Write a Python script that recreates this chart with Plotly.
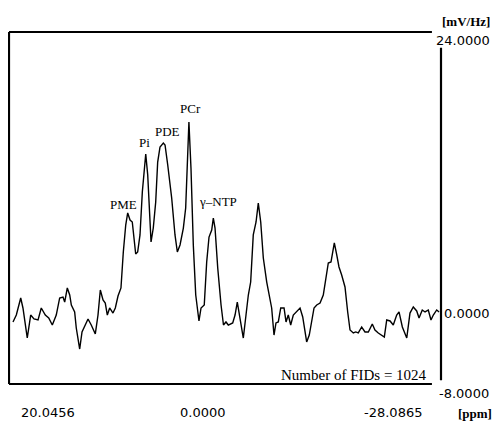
import plotly.graph_objects as go

# Chemical shift (ppm) and signal (mV/Hz)
ppm = [19.60, 19.23, 18.74, 18.49, 18.01, 17.63, 17.26, 16.81, 16.45, 16.00,
       15.62, 15.22, 14.78, 14.40, 14.03, 13.84, 13.55, 13.28, 13.10, 12.73,
       12.55, 12.17, 11.91, 11.54, 11.24, 10.88, 10.43, 10.13, 9.87, 9.57,
       9.32, 9.09, 8.83, 8.46, 8.20, 7.90, 7.57, 7.31, 7.04, 6.82,
       6.56, 6.31, 5.93, 5.71, 5.45, 5.19, 4.97, 4.81, 4.59, 4.22,
       3.97, 3.70, 3.48, 3.22, 2.85, 2.66, 2.36, 1.92, 1.55, 1.29,
       0.99, 0.62, 0.36, 0.13, 0.00, -0.23, -0.49, -0.76, -1.12, -1.35,
       -1.71, -1.98, -2.24, -2.54, -2.72, -2.91, -3.21, -3.58, -3.85, -4.13,
       -4.39, -4.88, -5.14, -5.39, -5.69, -6.06, -6.36, -6.62, -6.88, -7.17,
       -7.48, -7.73, -8.00, -8.29, -8.67, -8.96, -9.22, -9.48, -9.70, -9.96,
       -10.23, -10.60, -10.82, -11.07, -11.34, -11.63, -12.01, -12.38, -12.68, -13.12,
       -13.41, -13.68, -13.94, -14.24, -14.61, -14.97, -15.27, -15.53, -15.83, -16.20,
       -16.47, -16.72, -17.02, -17.39, -17.69, -17.95, -18.32, -18.58, -18.87, -19.25,
       -19.62, -19.99, -20.43, -20.73, -21.10, -21.48, -21.77, -22.04, -22.41, -22.77,
       -23.15, -23.41, -23.78, -24.27, -24.63, -25.00, -25.38, -25.64, -26.00, -26.31,
       -26.67, -26.97, -27.23, -27.61, -27.87]
signal = [-2.36, -1.73, -0.18, -1.09, -3.82, -1.73, -2.09, -2.18, -1.09, -1.73,
          -2.00, -2.64, -1.73, -0.18, -0.09, -0.55, 0.73, 0.09, -0.82, -1.45,
          -2.91, -4.82, -3.27, -2.64, -2.09, -2.64, -3.45, -1.73, 0.55, -0.36,
          -0.64, -1.73, -1.09, -1.55, -1.09, 0.00, 0.73, 4.00, 6.45, 7.55,
          6.91, 6.73, 3.82, 4.00, 5.55, 9.45, 11.27, 12.91, 11.00, 4.91,
          6.18, 8.55, 12.18, 13.55, 13.91, 13.73, 11.91, 8.91, 5.55, 4.00,
          4.64, 6.18, 8.00, 12.82, 15.82, 11.64, 4.64, 0.09, -2.27, -1.09,
          -0.82, 3.09, 5.36, 6.00, 7.09, 6.18, 2.55, -0.82, -2.64, -2.36,
          -2.64, -2.45, -1.73, -0.55, -1.91, -3.82, -1.73, 0.09, 1.27, 5.55,
          6.73, 8.45, 6.73, 3.45, 1.27, 0.09, -1.09, -3.55, -2.45, -2.36,
          -1.09, -1.09, -2.36, -1.73, -2.64, -1.73, -1.45, -1.09, -1.91, -4.18,
          -3.55, -2.36, -1.09, -0.82, -0.64, 0.09, 1.91, 3.00, 3.09, 4.82,
          3.73, 2.64, 1.91, 0.82, -1.45, -3.09, -3.36, -3.27, -3.36, -2.82,
          -3.27, -3.27, -2.55, -3.09, -3.36, -3.55, -3.73, -2.18, -2.27, -2.64,
          -1.73, -1.45, -2.82, -3.82, -1.55, -1.00, -1.36, -2.00, -1.27, -1.45,
          -1.27, -2.18, -1.73, -1.27, -1.45]

peak_names = ["PME", "Pi", "PDE", "PCr", "\u03b3\u2013NTP"]
peak_label_ppm = [7.34, 4.95, 2.44, -0.23, -3.24]
peak_label_y = [8.36, 14.0, 14.91, 17.09, 8.55]

x_range = [20.0456, -28.0865]
y_range = [-8.0, 24.0]
x_tick_text = ["20.0456", "0.0000", "-28.0865"]
y_tick_text = ["24.0000", "0.0000", "-8.0000"]

fig = go.Figure()
fig.add_trace(go.Scatter(x=ppm, y=signal, mode="lines",
                         line=dict(color="black", width=1.4),
                         hoverinfo="skip", showlegend=False))

serif = "Liberation Serif"
sans = "DejaVu Sans"
ann = []
for name, px, py in zip(peak_names, peak_label_ppm, peak_label_y):
    ann.append(dict(x=px, y=py, xref="x", yref="y", text=name, showarrow=False,
                    font=dict(family=serif, size=13, color="black"),
                    xanchor="center", yanchor="middle"))

# x tick labels (below the frame)
for t, xp in zip(x_tick_text, [0.090, 0.448, 0.889]):
    ann.append(dict(x=xp, y=-0.08, xref="paper", yref="paper", text=t, showarrow=False,
                    font=dict(family=sans, size=13, color="black"),
                    xanchor="center", yanchor="middle"))
# y tick labels (right side)
for t, xp, yp in zip(y_tick_text, [0.984, 1.003, 0.991], [0.977, 0.2017, -0.0256]):
    ann.append(dict(x=xp, y=yp, xref="paper", yref="paper", text=t, showarrow=False,
                    font=dict(family=sans, size=13, color="black"),
                    xanchor="left", yanchor="middle"))
ann.append(dict(x=1.117, y=1.03, xref="paper", yref="paper", text="<b>[mV/Hz]</b>",
                showarrow=False, font=dict(family=serif, size=13, color="black"),
                xanchor="right", yanchor="middle"))
ann.append(dict(x=1.079, y=-0.0824, xref="paper", yref="paper", text="<b>[ppm]</b>",
                showarrow=False, font=dict(family=serif, size=13, color="black"),
                xanchor="center", yanchor="middle"))
ann.append(dict(x=0.972, y=0.026, xref="paper", yref="paper", text="Number of FIDs = 1024",
                showarrow=False, font=dict(family=serif, size=15, color="black"),
                xanchor="right", yanchor="middle"))

shapes = [
    dict(type="line", xref="paper", yref="paper", x0=0, x1=0, y0=0, y1=1,
         line=dict(color="black", width=2.2)),
    dict(type="line", xref="paper", yref="paper", x0=0, x1=0.979, y0=1, y1=1,
         line=dict(color="black", width=1.8)),
    dict(type="line", xref="paper", yref="paper", x0=0, x1=0.979, y0=0, y1=0,
         line=dict(color="black", width=1.8)),
    dict(type="line", xref="paper", yref="paper", x0=1, x1=1, y0=0.011, y1=0.955,
         line=dict(color="black", width=2.2)),
]

# The page body has an 8px margin, so the figure is 8px smaller and starts at (8, 8)
fig.update_layout(
    width=493, height=415,
    margin=dict(l=1, r=60, t=24, b=39),
    paper_bgcolor="white", plot_bgcolor="white",
    xaxis=dict(range=x_range, visible=False, fixedrange=True),
    yaxis=dict(range=y_range, visible=False, fixedrange=True),
    annotations=ann, shapes=shapes, showlegend=False,
)

fig.write_html("out.html")
